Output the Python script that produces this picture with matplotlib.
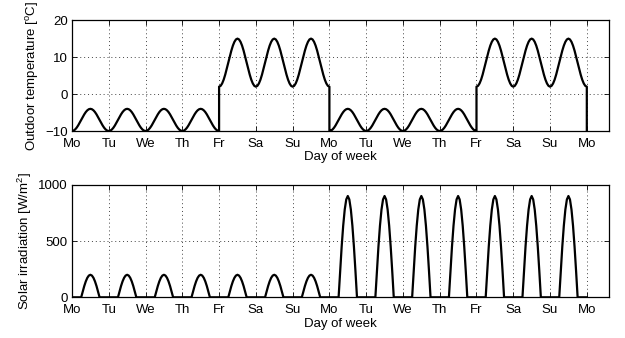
import matplotlib
matplotlib.use("Agg")
import matplotlib.pyplot as plt
import numpy as np

plt.rcParams['font.family'] = ['Liberation Sans', 'DejaVu Sans']
plt.rcParams['mathtext.fontset'] = 'custom'
plt.rcParams['mathtext.rm'] = 'Liberation Sans'
plt.rcParams['font.size'] = 9.5

# day labels on the x axis (two weeks + closing Monday)
day_names = ['Mo', 'Tu', 'We', 'Th', 'Fr', 'Sa', 'Su',
             'Mo', 'Tu', 'We', 'Th', 'Fr', 'Sa', 'Su', 'Mo']

# hours of one day and normalised daily shapes
hours = list(range(25))
temp_shape = [0.0, 0.017, 0.067, 0.146, 0.25, 0.371, 0.5, 0.629, 0.75, 0.854, 0.933, 0.983, 1.0,
              0.983, 0.933, 0.854, 0.75, 0.629, 0.5, 0.371, 0.25, 0.146, 0.067, 0.017, 0.0]
sun_shape = [0, 0, 0, 0, 0, 0, 0.0, 0.259, 0.5, 0.707, 0.866, 0.966, 1.0,
             0.966, 0.866, 0.707, 0.5, 0.259, 0.0, 0, 0, 0, 0, 0, 0]

# per-day values: daily min / max temperature [C], peak irradiation [W/m2]
temp_min = [-10, -10, -10, -10, 2, 2, 2, -10, -10, -10, -10, 2, 2, 2]
temp_max = [-4, -4, -4, -4, 15, 15, 15, -4, -4, -4, -4, 15, 15, 15]
temp_after = -10
sun_peak = [200, 200, 200, 200, 200, 200, 200, 900, 900, 900, 900, 900, 900, 900]

# build the time series day by day
t, temp, sun = [], [], []
for d in range(len(temp_min)):
    for h, ts, ss in zip(hours, temp_shape, sun_shape):
        t.append(d + h / 24)
        temp.append(temp_min[d] + (temp_max[d] - temp_min[d]) * ts)
        sun.append(sun_peak[d] * ss)
t.append(len(temp_min))
temp.append(temp_after)
sun.append(0)

fig = plt.figure(figsize=(6.25, 3.38), dpi=100)
ax1 = fig.add_axes([0.1152, 0.6124, 0.859, 0.328])
ax2 = fig.add_axes([0.1152, 0.1204, 0.859, 0.333])

ax1.plot(t, temp, color='black', lw=1.6)
ax1.set_ylim(-10, 20)
ax1.set_yticks([-10, 0, 10, 20])
ax1.set_ylabel(r'Outdoor temperature [$^{\rm o}$C]', labelpad=3)

ax2.plot(t, sun, color='black', lw=1.6)
ax2.set_ylim(0, 1000)
ax2.set_yticks([0, 500, 1000])
ax2.set_ylabel(r'Solar irradiation [W/m$^2$]', labelpad=3)

for ax in (ax1, ax2):
    ax.set_xlim(0, 14.6)
    ax.set_xticks(range(len(day_names)))
    ax.set_xticklabels(day_names)
    ax.set_xlabel('Day of week', labelpad=1)
    ax.grid(True, color='#444444', linestyle=(0, (1, 3)), linewidth=0.7)
    ax.tick_params(direction='in', top=True, right=True, length=3.5, width=0.6)
    ax.tick_params(axis='x', pad=5)
    ax.tick_params(axis='y', pad=3)
    for s in ax.spines.values():
        s.set_linewidth(0.9)

fig.savefig('out.png', dpi=100)
